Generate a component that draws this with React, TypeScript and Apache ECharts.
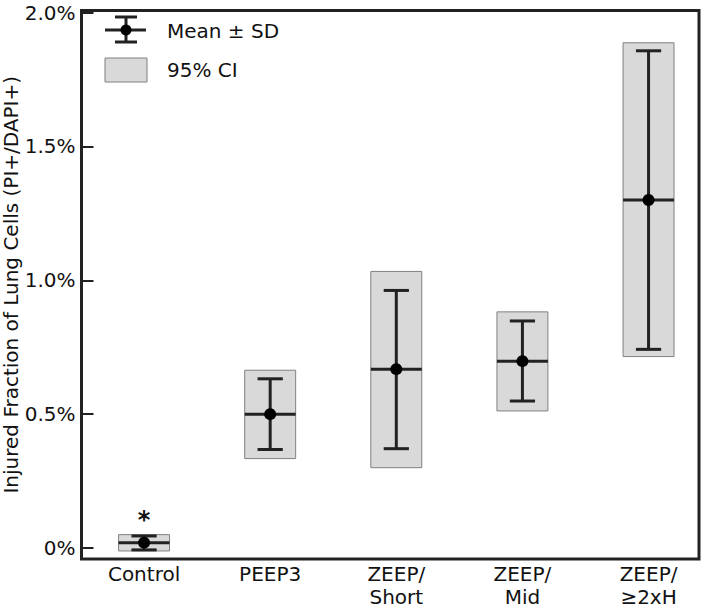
import React, { useEffect, useRef } from "react";
import * as echarts from "echarts";

const categories = ["Control", "PEEP3", "ZEEP/\nShort", "ZEEP/\nMid", "ZEEP/\n≥2xH"];
const means = [0.02, 0.5, 0.668, 0.698, 1.3];
const sdLow = [-0.007, 0.368, 0.371, 0.549, 0.742];
const sdHigh = [0.045, 0.632, 0.962, 0.848, 1.857];
const ciLow = [-0.011, 0.334, 0.3, 0.512, 0.715];
const ciHigh = [0.05, 0.664, 1.033, 0.882, 1.887];
const annotations = ["*", "", "", "", ""];
const yTicks = [0, 0.5, 1.0, 1.5, 2.0];
const legendLabels = ["Mean ± SD", "95% CI"];

const FONT = "DejaVu Sans";
const DARK = "#222222";

export default function App() {
  const ref = useRef<HTMLDivElement>(null);

  useEffect(() => {
    if (!ref.current) return;
    const chart = echarts.init(ref.current, null, { renderer: "svg" });
    const data = categories.map((_, i) => [i + 1, means[i], sdLow[i], sdHigh[i], ciLow[i], ciHigh[i]]);

    const option: any = {
      animation: false,
      backgroundColor: "#ffffff",
      textStyle: { fontFamily: FONT },
      grid: {
        left: 81.5,
        right: 2,
        top: 10.5,
        bottom: 50,
        containLabel: false,
        outerBoundsMode: "none",
        show: true,
        borderColor: DARK,
        borderWidth: 3,
        backgroundColor: "transparent",
      },
      xAxis: {
        type: "value",
        min: 0.504,
        max: 5.4,
        axisLine: { show: false },
        axisTick: { show: false },
        splitLine: { show: false },
        axisLabel: {
          customValues: [1, 2, 3, 4, 5],
          formatter: (v: number) => categories[Math.round(v) - 1] ?? "",
          fontFamily: FONT,
          fontSize: 20,
          color: "#111",
          lineHeight: 23,
          margin: 3,
        },
      },
      yAxis: {
        type: "value",
        min: -0.041,
        max: 2.0075,
        name: "Injured Fraction of Lung Cells (PI+/DAPI+)",
        nameLocation: "middle",
        nameGap: 61,
        nameMoveOverlap: false,
        nameTextStyle: { fontFamily: FONT, fontSize: 20, color: "#111" },
        axisLine: { show: false },
        splitLine: { show: false },
        axisTick: {
          customValues: yTicks,
          inside: true,
          length: 12,
          lineStyle: { color: DARK, width: 2 },
        },
        axisLabel: {
          customValues: yTicks,
          formatter: (v: number) => (v === 0 ? "0%" : v.toFixed(1) + "%"),
          fontFamily: FONT,
          fontSize: 20,
          color: "#111",
          margin: 6,
        },
      },
      graphic: [
        { type: "line", shape: { x1: 105, y1: 30, x2: 146, y2: 30 }, style: { stroke: DARK, lineWidth: 3 } },
        { type: "line", shape: { x1: 126, y1: 17, x2: 126, y2: 42 }, style: { stroke: DARK, lineWidth: 3 } },
        { type: "line", shape: { x1: 115, y1: 17, x2: 137, y2: 17 }, style: { stroke: DARK, lineWidth: 3 } },
        { type: "line", shape: { x1: 115, y1: 42, x2: 137, y2: 42 }, style: { stroke: DARK, lineWidth: 3 } },
        { type: "circle", shape: { cx: 126, cy: 30, r: 5.5 }, style: { fill: "#000" } },
        { type: "text", x: 167, y: 31, style: { text: legendLabels[0], font: `20px "${FONT}"`, fill: "#111", verticalAlign: "middle" } },
        { type: "rect", shape: { x: 105, y: 58, width: 42, height: 24 }, style: { fill: "#d9d9d9", stroke: "#808080", lineWidth: 1 } },
        { type: "text", x: 167, y: 70, style: { text: legendLabels[1], font: `20px "${FONT}"`, fill: "#111", verticalAlign: "middle" } },
      ],
      series: [
        {
          type: "custom",
          clip: false,
          data,
          renderItem: (params: any, api: any) => {
            const x = api.value(0);
            const mean = api.value(1);
            const sl = api.value(2);
            const sh = api.value(3);
            const cl = api.value(4);
            const ch = api.value(5);
            const [cx, my] = api.coord([x, mean]);
            const boxL = api.coord([x - 0.202, mean])[0];
            const boxR = api.coord([x + 0.202, mean])[0];
            const capL = api.coord([x - 0.1, mean])[0];
            const capR = api.coord([x + 0.1, mean])[0];
            const yCl = api.coord([x, cl])[1];
            const yCh = api.coord([x, ch])[1];
            const ySl = api.coord([x, sl])[1];
            const ySh = api.coord([x, sh])[1];
            const ls = { stroke: DARK, lineWidth: 3 };
            const children: any[] = [
              { type: "rect", shape: { x: boxL, y: yCh, width: boxR - boxL, height: yCl - yCh }, style: { fill: "#d9d9d9", stroke: "#808080", lineWidth: 1 } },
              { type: "line", shape: { x1: cx, y1: ySh, x2: cx, y2: ySl }, style: ls },
              { type: "line", shape: { x1: capL, y1: ySh, x2: capR, y2: ySh }, style: ls },
              { type: "line", shape: { x1: capL, y1: ySl, x2: capR, y2: ySl }, style: ls },
              { type: "line", shape: { x1: boxL, y1: my, x2: boxR, y2: my }, style: ls },
              { type: "circle", shape: { cx, cy: my, r: 6 }, style: { fill: "#000" } },
            ];
            const ann = annotations[params.dataIndex];
            if (ann) {
              children.push({
                type: "text",
                x: cx,
                y: yCh - 3,
                style: { text: ann, font: `bold 24px "${FONT}"`, fill: "#111", align: "center", verticalAlign: "bottom" },
              });
            }
            return { type: "group", children };
          },
        },
      ],
    };

    chart.setOption(option);
    return () => chart.dispose();
  }, []);

  return (
    <div
      ref={ref}
      style={{ position: "fixed", left: 0, top: 0, width: 701, height: 609, background: "#fff" }}
    />
  );
}
